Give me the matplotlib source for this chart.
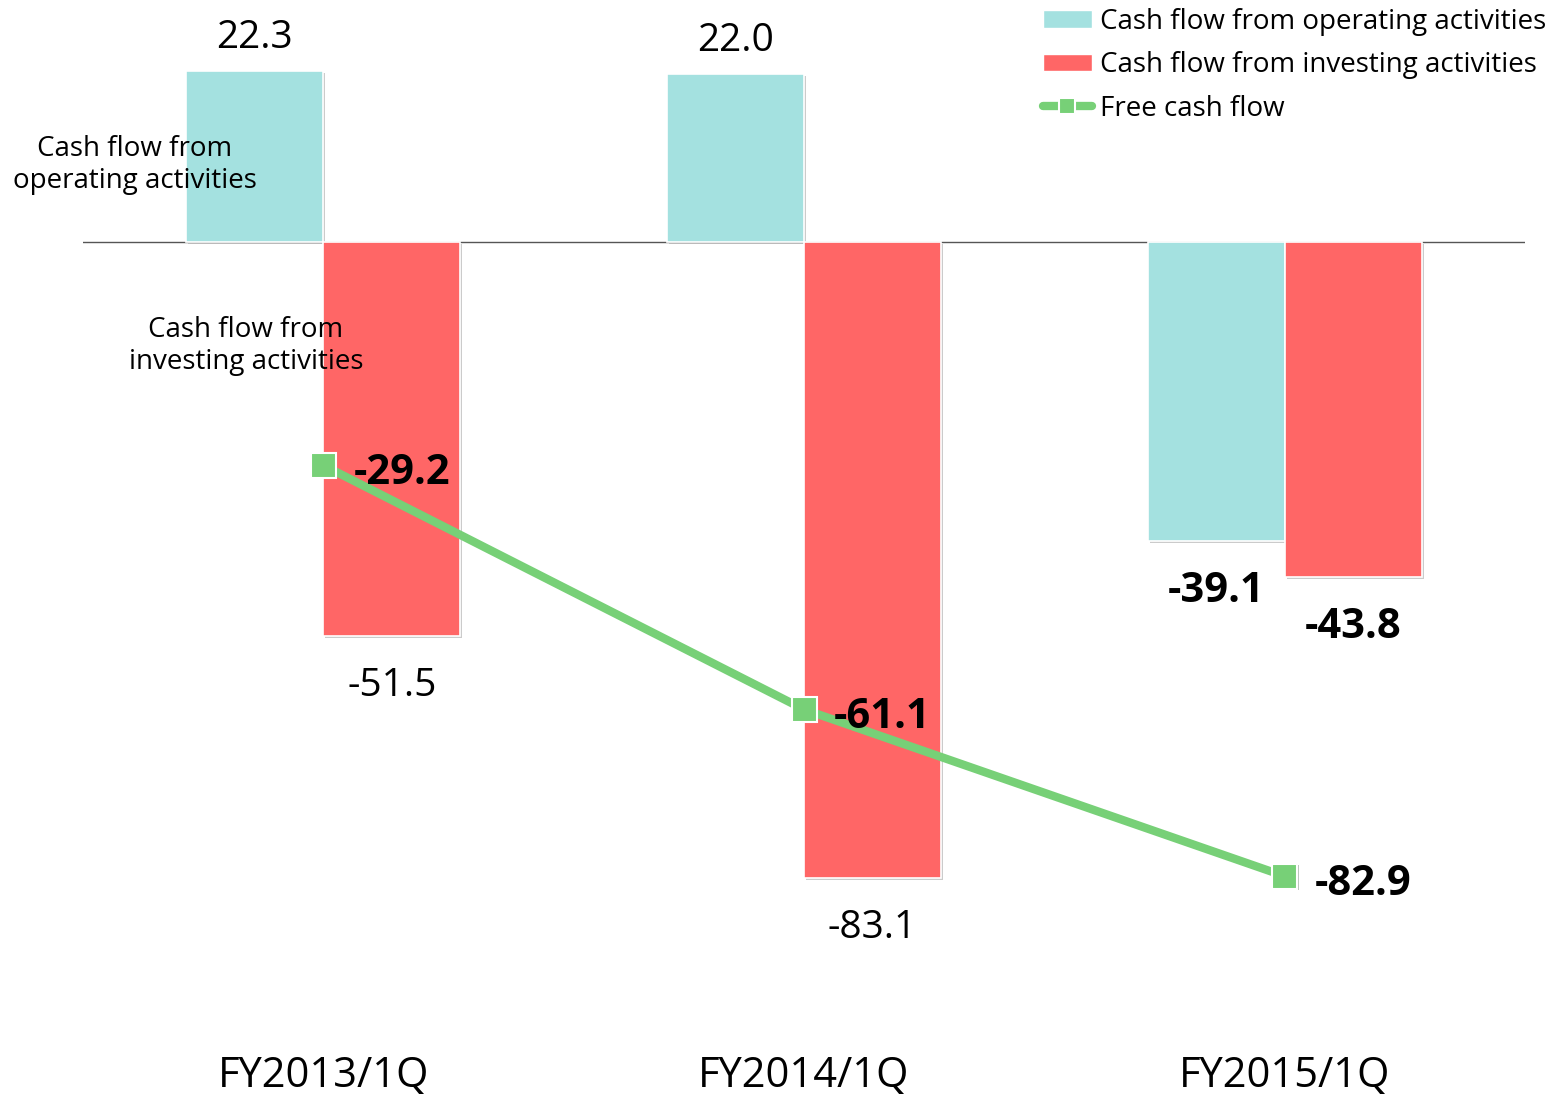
import matplotlib
matplotlib.use("Agg")
import matplotlib.pyplot as plt
import matplotlib.patheffects as pe
import matplotlib.transforms as mtransforms
from matplotlib.lines import Line2D
from matplotlib.patches import Patch
import numpy as np

categories = ["FY2013/1Q", "FY2014/1Q", "FY2015/1Q"]
operating = [22.3, 22.0, -39.1]
investing = [-51.5, -83.1, -43.8]
free_cf = [-29.2, -61.1, -82.9]
op_bold = [False, False, True]
inv_bold = [False, False, True]

C_OP = "#A4E1E0"
C_INV = "#FF6666"
C_FCF = "#77D077"

plt.rcParams["font.family"] = ["Open Sans", "DejaVu Sans"]

W, H = 1558, 1094
fig = plt.figure(figsize=(W / 100, H / 100), dpi=100)
PX = 0.72  # points per pixel
scale = 7.65  # px per unit
ax_top_px, ax_bot_px = 0, 1000
ax = fig.add_axes([83 / W, 1 - ax_bot_px / H, (1525 - 83) / W, (ax_bot_px - ax_top_px) / H])
ax.set_xlim(-0.5, 2.5)
ax.set_ylim(-(ax_bot_px - 242) / scale, (242 - ax_top_px) / scale)
ax.axis("off")

x = np.arange(len(categories))
w = 0.285
shadow = [pe.withSimplePatchShadow(offset=(1.5, -1.5), shadow_rgbFace="#999999", alpha=0.5)]
ax.bar(x - w / 2, operating, w, color=C_OP, edgecolor="white", linewidth=1.2, zorder=2, path_effects=shadow)
ax.bar(x + w / 2, investing, w, color=C_INV, edgecolor="white", linewidth=1.2, zorder=2, path_effects=shadow)
ax.axhline(0, color="#555555", lw=1, zorder=1)

ax.plot(x, free_cf, color=C_FCF, lw=6, zorder=3, solid_capstyle="butt")
ax.plot(x, free_cf, ls="none", marker="s", ms=18, mfc=C_FCF, mec="white", mew=1.5, zorder=4,
        path_effects=[pe.withSimplePatchShadow(offset=(1, -1), alpha=0.3)])

FS_VAL = 28
FS_BOLD = 30


def bar_label(xi, v, bold):
    dy = 33 if v > 0 else -50
    ax.annotate(f"{v:.1f}", (xi, v), xytext=(0, dy * PX), textcoords="offset points",
                ha="center", va="center", fontsize=FS_BOLD if bold else FS_VAL,
                fontweight="bold" if bold else "normal")


for xi, v, bold in zip(x - w / 2, operating, op_bold):
    bar_label(xi, v, bold)
for xi, v, bold in zip(x + w / 2, investing, inv_bold):
    bar_label(xi, v, bold)
for xi, v in zip(x, free_cf):
    ax.annotate(f"{v:.1f}", (xi, v), xytext=(30 * PX, -8 * PX), textcoords="offset points",
                ha="left", va="center", fontsize=FS_BOLD, fontweight="bold")

trans = mtransforms.blended_transform_factory(ax.transData, fig.transFigure)
for xi, c in zip(x, categories):
    ax.text(xi, 1 - 1076 / H, c, transform=trans, ha="center", va="center", fontsize=30)

ax.text(-0.392, 10.1, "Cash flow from\noperating activities", ha="center", va="center",
        fontsize=20, linespacing=1.2, zorder=5)
ax.text(-0.161, -13.6, "Cash flow from\ninvesting activities", ha="center", va="center",
        fontsize=20, linespacing=1.2, zorder=5)

handles = [
    Patch(facecolor=C_OP, edgecolor="white"),
    Patch(facecolor=C_INV, edgecolor="white"),
    Line2D([], [], color=C_FCF, lw=6, marker="s", ms=12, mfc=C_FCF, mec="white", mew=1.5,
           solid_capstyle="round"),
]
labels = ["Cash flow from operating activities", "Cash flow from investing activities", "Free cash flow"]
fig.legend(handles, labels, loc="upper left", bbox_to_anchor=(1043 / W, 1 - 8 / H), frameon=False,
           fontsize=20, handlelength=1.75, handleheight=0.6, handletextpad=0.3, labelspacing=0.55,
           borderaxespad=0, borderpad=0)

fig.savefig("out.png", dpi=100)
